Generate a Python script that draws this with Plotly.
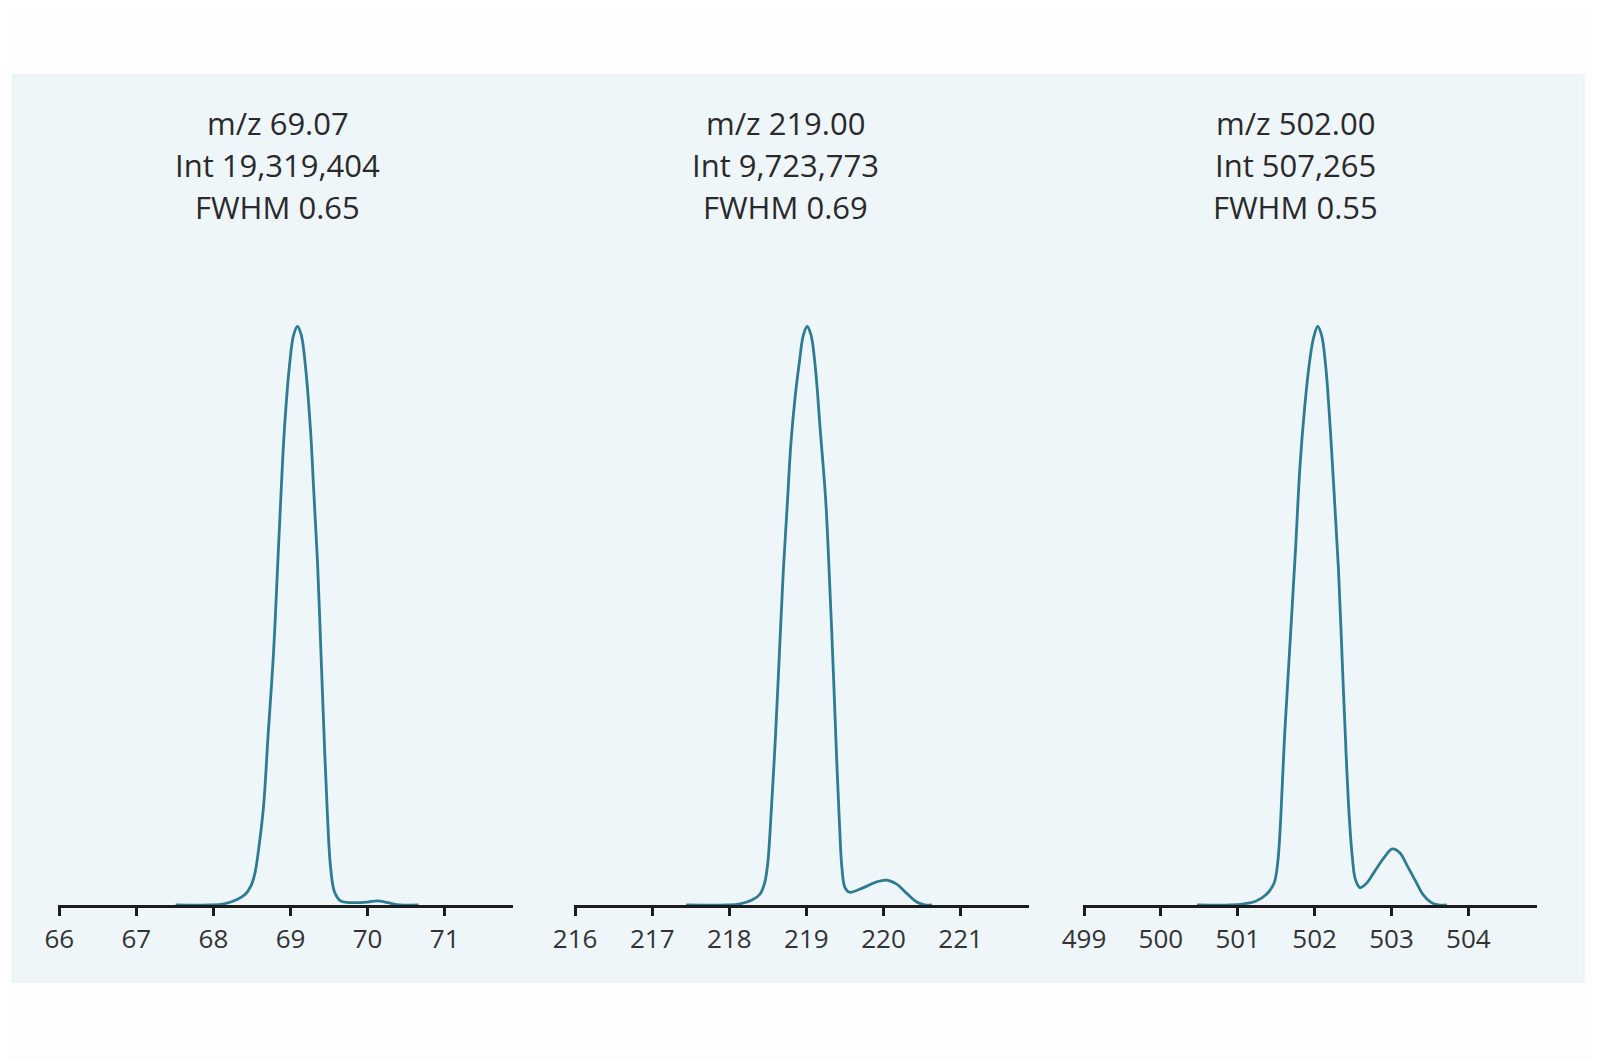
import plotly.graph_objects as go

# peak profiles: m/z vs. normalised intensity
mz_69 = [67.51, 67.94, 68.14, 68.30, 68.41, 68.49, 68.54, 68.59, 68.65, 68.71, 68.78, 68.83,
         68.88, 68.92, 68.985, 69.04, 69.09, 69.14, 69.195, 69.26, 69.30, 69.35, 69.40, 69.44,
         69.48, 69.52, 69.57, 69.65, 69.80, 70.00, 70.13, 70.26, 70.42, 70.66]
int_69 = [0, 0, 0.002, 0.009, 0.018, 0.034, 0.056, 0.10, 0.17, 0.295, 0.436, 0.577,
          0.72, 0.82, 0.93, 0.985, 1.0, 0.985, 0.93, 0.82, 0.72, 0.594, 0.418, 0.277,
          0.153, 0.065, 0.023, 0.007, 0.004, 0.005, 0.007, 0.004, 0, 0]

mz_219 = [217.44, 217.97, 218.14, 218.30, 218.40, 218.46, 218.50, 218.54, 218.60, 218.65,
          218.70, 218.755, 218.80, 218.855, 218.91, 218.96, 219.01, 219.06, 219.115, 219.18,
          219.25, 219.30, 219.35, 219.39, 219.43, 219.46, 219.50, 219.56, 219.74, 219.91,
          220.04, 220.17, 220.30, 220.42, 220.53, 220.63]
int_219 = [0, 0, 0.002, 0.009, 0.019, 0.039, 0.074, 0.153, 0.295, 0.436,
           0.577, 0.70, 0.80, 0.88, 0.94, 0.985, 1.0, 0.985, 0.93, 0.82,
           0.70, 0.56, 0.40, 0.26, 0.136, 0.065, 0.030, 0.022, 0.030, 0.040,
           0.043, 0.036, 0.020, 0.006, 0, 0]

mz_502 = [500.47, 500.91, 501.08, 501.24, 501.37, 501.47, 501.52, 501.56, 501.61, 501.68,
          501.75, 501.81, 501.87, 501.93, 501.985, 502.04, 502.09, 502.145, 502.20, 502.25,
          502.31, 502.36, 502.41, 502.45, 502.49, 502.53, 502.59, 502.67, 502.77, 502.91,
          503.01, 503.11, 503.20, 503.31, 503.41, 503.51, 503.61, 503.72]
int_502 = [0, 0, 0.002, 0.007, 0.018, 0.037, 0.074, 0.153, 0.295, 0.453,
           0.612, 0.76, 0.86, 0.935, 0.98, 1.0, 0.985, 0.93, 0.83, 0.72,
           0.58, 0.418, 0.259, 0.153, 0.083, 0.044, 0.030, 0.037, 0.056, 0.083,
           0.097, 0.090, 0.069, 0.042, 0.018, 0.005, 0, 0]

ticks_69 = [66, 67, 68, 69, 70, 71]
ticks_219 = [216, 217, 218, 219, 220, 221]
ticks_502 = [499, 500, 501, 502, 503, 504]

labels_69 = ["m/z 69.07", "Int 19,319,404", "FWHM 0.65"]
labels_219 = ["m/z 219.00", "Int 9,723,773", "FWHM 0.69"]
labels_502 = ["m/z 502.00", "Int 507,265", "FWHM 0.55"]

W, H = 1600, 1060
line_color = "#2d7b95"
axis_color = "#1c1c1c"
text_color = "#2a2a2a"
font_family = "Open Sans"

# the page body adds an 8px margin, so positions below are pulled back by 8px
panels = [
    (mz_69, int_69, ticks_69, labels_69, [65.987, 71.89], [0.0314, 0.3158], 0.1685),
    (mz_219, int_219, ticks_219, labels_219, [215.987, 221.89], [0.3538, 0.6383], 0.4861),
    (mz_502, int_502, ticks_502, labels_502, [498.987, 504.89], [0.6719, 0.9555], 0.8049),
]
label_rows = [115.5, 157.3, 199.1]  # px from top

fig = go.Figure()
layout = {}
for i, (mz, inten, ticks, lines, xr, dom, label_x) in enumerate(panels):
    n = "" if i == 0 else str(i + 1)
    fig.add_trace(go.Scatter(
        x=mz, y=inten, mode="lines",
        line=dict(color=line_color, width=2.8, shape="spline", smoothing=1.0),
        xaxis="x" + n, yaxis="y" + n, showlegend=False, hoverinfo="skip"
    ))
    layout["xaxis" + n] = dict(
        domain=dom, range=xr, anchor="y" + n,
        tickmode="array", tickvals=ticks, ticktext=[str(t) for t in ticks],
        showline=True, linecolor=axis_color, linewidth=2.5,
        ticks="outside", ticklen=8, tickwidth=2.5, tickcolor=axis_color,
        tickfont=dict(family=font_family, size=26, color="#333333"),
        ticklabelstandoff=1,
        showgrid=False, zeroline=False, layer="below traces", fixedrange=True,
        automargin=False
    )
    layout["yaxis" + n] = dict(
        domain=[0.1538, 0.7268], range=[0, 1.05], anchor="x" + n,
        visible=False, showgrid=False, zeroline=False, fixedrange=True,
        automargin=False
    )
    for txt, row in zip(lines, label_rows):
        fig.add_annotation(
            text=txt, xref="paper", yref="paper", x=label_x, y=1 - row / H,
            xanchor="center", yanchor="middle", showarrow=False,
            font=dict(family=font_family, size=31, color=text_color)
        )

# light blue backdrop panel
fig.add_shape(
    type="rect", xref="paper", yref="paper",
    x0=4.5 / W, x1=1576 / W, y0=1 - 974 / H, y1=1 - 67 / H,
    fillcolor="#eef6fa", line=dict(color="#e6eef2", width=1), layer="below"
)

fig.update_layout(
    **layout,
    width=W, height=H,
    autosize=False,
    margin=dict(l=0, r=0, t=0, b=0, pad=0, autoexpand=False),
    paper_bgcolor="#fdfdfd",
    plot_bgcolor="rgba(0,0,0,0)",
    showlegend=False,
)

fig.write_html("out.html")
